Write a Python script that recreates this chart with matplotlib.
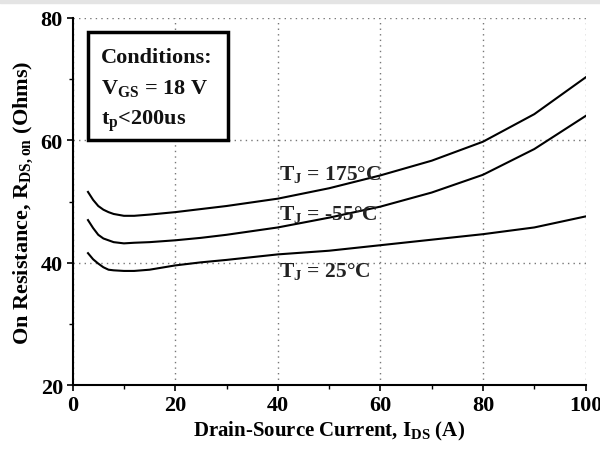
import numpy as np
import matplotlib.pyplot as plt
from matplotlib.patches import Rectangle

plt.rcParams['font.family'] = ['Liberation Serif', 'DejaVu Serif']
plt.rcParams['font.weight'] = 'bold'
plt.rcParams['axes.labelweight'] = 'bold'
plt.rcParams['mathtext.fontset'] = 'custom'
plt.rcParams['mathtext.rm'] = 'Liberation Serif:bold'
plt.rcParams['mathtext.it'] = 'Liberation Serif:bold'
plt.rcParams['mathtext.bf'] = 'Liberation Serif:bold'

# Drain current (A) and on-resistance
ids = [3, 4, 5, 6, 7, 8, 10, 12, 15, 20, 25, 30, 40, 50, 60, 70, 80, 90, 100]
r_175 = [51.6, 50.3, 49.3, 48.7, 48.3, 48.0, 47.7, 47.7, 47.9, 48.3, 48.8, 49.3, 50.5, 52.2, 54.3, 56.7, 59.8, 64.3, 70.3]
r_m55 = [47.0, 45.7, 44.6, 44.0, 43.7, 43.4, 43.2, 43.3, 43.4, 43.7, 44.1, 44.6, 45.8, 47.4, 49.2, 51.5, 54.4, 58.6, 64.0]
r_25 = [41.6, 40.6, 39.9, 39.3, 38.9, 38.8, 38.7, 38.7, 38.9, 39.6, 40.1, 40.5, 41.4, 42.0, 42.9, 43.8, 44.7, 45.8, 47.6]

curve_labels = [r"T$_J$ = 175°C", r"T$_J$ = -55°C", r"T$_J$ = 25°C"]
label_y = [53.7, 47.1, 37.9]

cond_lines = ["Conditions:", r"V$_{GS}$ = 18 V", r"t$_p$<200us"]
cond_y = [72.8, 67.75, 62.7]

fig = plt.figure(figsize=(6, 4.52), dpi=100)
fig.patches.append(Rectangle((0, 0.991), 1, 0.009, transform=fig.transFigure,
                             color='#e4e4e4', zorder=0))
ax = fig.add_axes([0.121, 0.145, 0.855, 0.813])

for r in (r_175, r_m55, r_25):
    ax.plot(ids, r, color='black', lw=1.5)

for lab, y in zip(curve_labels, label_y):
    ax.text(40.3, y, lab, fontsize=15.5, va='baseline', ha='left', color='#222222')

# conditions box
ax.add_patch(Rectangle((3.0, 60.1), 27.3, 17.6, facecolor='white',
                       edgecolor='black', lw=2.5, zorder=3))
for line, y in zip(cond_lines, cond_y):
    ax.text(5.5, y, line, fontsize=16, va='baseline', ha='left', color='#111111', zorder=4)

ax.set_xlim(0, 100)
ax.set_ylim(20, 80)
ax.set_xticks([0, 20, 40, 60, 80, 100])
ax.set_xticks([10, 30, 50, 70, 90], minor=True)
ax.set_yticks([20, 40, 60, 80])
ax.set_yticks([30, 50, 70], minor=True)
ax.tick_params(labelsize=16, length=4, width=1.2, direction='out', pad=3)
ax.tick_params(which='minor', length=3, width=1)
ax.grid(True, which='major', linestyle=(0, (1, 3)), color='#777777', lw=1)
for s in ('top', 'right'):
    ax.spines[s].set_visible(False)
for s in ('left', 'bottom'):
    ax.spines[s].set_linewidth(1.5)

ax.set_xlabel(r"Drain-Source Current, I$_{DS}$ (A)", fontsize=15, labelpad=3)
ax.set_ylabel(r"On Resistance, R$_{DS,on}$ (Ohms)", fontsize=16, labelpad=4)

plt.savefig("out.png", dpi=100)
